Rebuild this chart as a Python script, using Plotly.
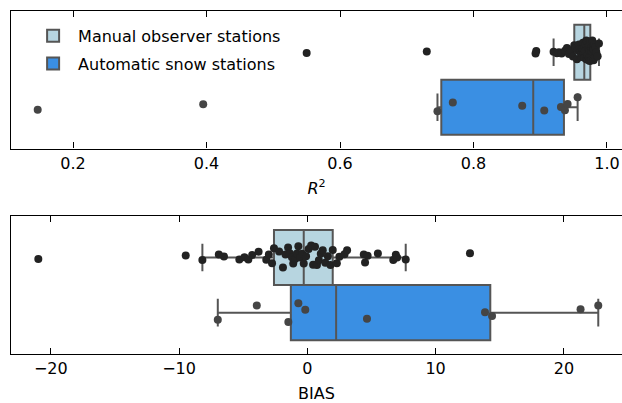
import numpy as np
import plotly.graph_objects as go

groups = ["Manual observer stations", "Automatic snow stations"]

manual_r2 = [0.55, 0.73, 0.893, 0.894, 0.920, 0.925, 0.928, 0.932, 0.937, 0.940, 0.943, 0.946, 0.949,
             0.951, 0.953, 0.955, 0.956, 0.958, 0.959, 0.960, 0.961, 0.962, 0.963, 0.964, 0.965, 0.9655, 0.966,
             0.967, 0.968, 0.969, 0.969, 0.970, 0.971, 0.971, 0.972, 0.973, 0.973, 0.974, 0.974, 0.975,
             0.976, 0.977, 0.977, 0.978, 0.979, 0.980, 0.980, 0.981, 0.982, 0.983, 0.984, 0.986, 0.988]
auto_r2 = [0.147, 0.395, 0.746, 0.769, 0.873, 0.906, 0.931, 0.937, 0.941, 0.956]

manual_bias = [-20.97, -9.48, -8.18, -6.9, -6.5, -5.3, -4.9, -4.6, -4.3, -3.8, -3.2, -3.0, -2.75,
               -2.6, -2.2, -1.9, -1.7, -1.5, -1.35, -1.2, -1.1, -0.95, -0.8, -0.7, -0.55, -0.4, -0.28,
               -0.1, 0.1, 0.3, 0.45, 0.6, 0.75, 0.9, 1.05, 1.2, 1.4, 1.6, 1.8, 1.98,
               2.3, 2.5, 2.9, 3.1, 4.4, 4.5, 4.7, 5.5, 6.7, 6.9, 7.0, 7.67, 12.68]
auto_bias = [-6.98, -3.94, -1.48, -0.70, -0.16, 4.65, 13.85, 14.40, 21.3, 22.68]

r2_ticks = [0.2, 0.4, 0.6, 0.8, 1.0]
r2_ticktext = ["0.2", "0.4", "0.6", "0.8", "1.0"]
bias_ticks = [-20, -10, 0, 10, 20]

fill_colors = ["#b7d5e0", "#3a8fe3"]
point_colors = ["#222222", "#454545"]
edge = "#555555"
FONT = "DejaVu Sans"


def box_stats(vals):
    a = np.asarray(vals, dtype=float)
    q1, med, q3 = np.percentile(a, [25, 50, 75])
    iqr = q3 - q1
    lo = a[a >= q1 - 1.5 * iqr].min()
    hi = a[a <= q3 + 1.5 * iqr].max()
    return q1, med, q3, lo, hi


fig = go.Figure()
cat = "all"
panels = [("x", "y", [manual_r2, auto_r2]), ("x2", "y2", [manual_bias, auto_bias])]

for p, (xa, ya, series) in enumerate(panels):
    for i, (name, vals) in enumerate(zip(groups, series)):
        q1, med, q3, lo, hi = box_stats(vals)
        fig.add_trace(go.Box(
            y=[cat], q1=[q1], median=[med], q3=[q3], lowerfence=[lo], upperfence=[hi],
            orientation="h", name=name, xaxis=xa, yaxis=ya,
            offsetgroup=str(i), legendgroup=str(i),
            fillcolor=fill_colors[i], line=dict(color=edge, width=2), whiskerwidth=0.5,
            boxpoints=False, showlegend=(p == 0), hoverinfo="skip"))
    for i, (name, vals) in enumerate(zip(groups, series)):
        fig.add_trace(go.Box(
            x=vals, y=[cat] * len(vals), orientation="h", name=name, xaxis=xa, yaxis=ya,
            offsetgroup=str(i), legendgroup=str(i),
            boxpoints="all", jitter=0.5, pointpos=0,
            fillcolor="rgba(0,0,0,0)", line=dict(color="rgba(0,0,0,0)", width=0),
            marker=dict(color=point_colors[i], size=8),
            showlegend=False, hoverinfo="skip"))

axis_common = dict(ticks="inside", ticklen=6, tickwidth=1.2, tickcolor="black",
                   showline=True, linecolor="black", linewidth=1.2, mirror="ticks",
                   showgrid=False, zeroline=False, automargin=False,
                   tickfont=dict(family=FONT, size=16, color="black"))
yaxis_common = dict(type="category", range=[0.5, -0.5], showticklabels=False, ticks="",
                    showline=True, linecolor="black", linewidth=1.2, showgrid=False,
                    zeroline=False, automargin=False)

fig.update_layout(
    width=622, height=403,
    margin=dict(l=11, r=0, t=11, b=49, autoexpand=False),
    paper_bgcolor="white", plot_bgcolor="white",
    font=dict(family=FONT, size=16, color="black"),
    boxmode="group", boxgap=0.2, boxgroupgap=0,
    xaxis=dict(domain=[0, 1], anchor="y", range=[0.107, 1.0225], tickvals=r2_ticks,
               ticktext=r2_ticktext,
               title=dict(text="<i>R</i><sup>2</sup>", standoff=10, font=dict(family=FONT, size=16)),
               **axis_common),
    yaxis=dict(domain=[0.599, 1], anchor="x", **yaxis_common),
    xaxis2=dict(domain=[0, 1], anchor="y2", range=[-23.1, 24.53], tickvals=bias_ticks,
                title=dict(text="BIAS", standoff=10, font=dict(family=FONT, size=16)),
                **axis_common),
    yaxis2=dict(domain=[0, 0.402], anchor="x2", **yaxis_common),
    legend=dict(x=0.028, y=0.977, xanchor="left", yanchor="top", bgcolor="rgba(0,0,0,0)",
                font=dict(family=FONT, size=16, color="black"), tracegroupgap=4, itemwidth=40),
)

fig.write_html("out.html", config={"displayModeBar": False},
               post_script="document.body.style.margin='0';document.body.style.overflow='hidden';")
